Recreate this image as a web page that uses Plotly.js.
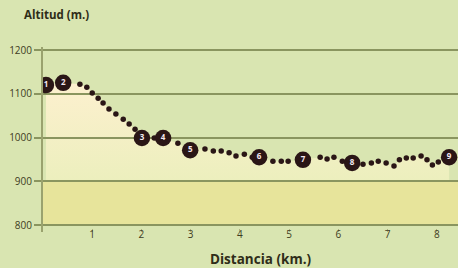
<!DOCTYPE html>
<html>
<head>
<meta charset="utf-8">
<script src="https://cdn.plot.ly/plotly-3.0.1.min.js"></script>
<style>
html,body{margin:0;padding:0;background:#d9e5b1;}
#chart{width:458px;height:268px;}
</style>
</head>
<body>
<div id="chart"></div>
<script>
// Waypoints (numbered markers)
const waypointLabels = ['1','2','3','4','5','6','7','8','9'];
const waypointKm  = [0.06, 0.41, 2.01, 2.44, 2.99, 4.39, 5.28, 6.28, 8.25];
const waypointAlt = [1120, 1125, 999, 999, 971, 955, 949, 942, 955];

// Small dots of the profile
const dotKm  = [0.75, 0.89, 1.00, 1.12, 1.22, 1.34, 1.48, 1.63, 1.75, 1.87, 2.26, 2.74,
                3.29, 3.46, 3.62, 3.78, 3.92, 4.09, 4.25, 4.67, 4.84, 4.98,
                5.63, 5.77, 5.91, 6.08, 6.50, 6.67, 6.81, 6.97, 7.13, 7.24, 7.38, 7.52, 7.68, 7.80, 7.91, 8.03];
const dotAlt = [1122, 1115, 1102, 1090, 1079, 1065, 1054, 1042, 1031, 1019, 999, 987,
                974, 969, 969, 965, 958, 962, 955, 946, 946, 946,
                955, 951, 955, 946, 939, 942, 946, 942, 935, 949, 953, 953, 958, 949, 937, 944];

const yTicks = [800, 900, 1000, 1100, 1200];
const yTickLabels = ['800', '900', '1000', '1100', '1200'];
const xTicks = [1, 2, 3, 4, 5, 6, 7, 8];
const bandLow = 800, bandTop = 900;

// Combined profile for the fill
const profile = waypointKm.map((k, i) => [k, waypointAlt[i]])
  .concat(dotKm.map((k, i) => [k, dotAlt[i]]))
  .sort((a, b) => a[0] - b[0]);
const profKm = profile.map(p => p[0]);
const profAlt = profile.map(p => p[1]);

const xRange = [0, 8.43];
const yRange = [784, 1207];
const olive = '#8a955f';
const txt = '#3e3c22';

const traces = [
  { x: [profKm[0], profKm[profKm.length - 1]], y: [bandTop, bandTop],
    xaxis: 'x', yaxis: 'y', mode: 'lines', line: {width: 0}, hoverinfo: 'skip', showlegend: false },
  { x: profKm, y: profAlt, xaxis: 'x', yaxis: 'y', mode: 'lines', line: {width: 0},
    fill: 'tonexty', fillcolor: '#f6f0c8',
    fillgradient: {type: 'vertical', start: bandTop, stop: 1130,
      colorscale: [[0, '#ecefbd'], [1, '#fdf0cf']]},
    hoverinfo: 'skip', showlegend: false },
  { x: dotKm, y: dotAlt, xaxis: 'x2', yaxis: 'y2', mode: 'markers',
    marker: {size: 5.5, color: '#2a1616'}, showlegend: false },
  { x: waypointKm, y: waypointAlt, xaxis: 'x2', yaxis: 'y2', mode: 'markers+text',
    text: waypointLabels, textposition: 'middle center',
    textfont: {family: 'Open Sans', size: 8, color: '#f4e8f0', weight: 700},
    marker: {size: 16.5, color: '#2a1616'}, showlegend: false }
];

const layout = {
  width: 458, height: 268,
  margin: {l: 43, r: 0, t: 47, b: 36},
  paper_bgcolor: '#d9e5b1',
  plot_bgcolor: 'rgba(0,0,0,0)',
  showlegend: false,
  font: {family: 'Open Sans', color: txt, size: 10},
  xaxis: {range: xRange, visible: false, fixedrange: true, domain: [0, 1]},
  yaxis: {range: yRange, visible: false, fixedrange: true, domain: [0, 1]},
  xaxis2: {range: xRange, anchor: 'y2', domain: [0, 1], showgrid: false, zeroline: false,
    tickvals: xTicks, ticktext: xTicks.map(String), ticks: 'inside', ticklen: 3,
    tickcolor: '#aeb07e', tickwidth: 1, showline: false, ticklabelstandoff: -5,
    tickfont: {size: 10, color: txt, family: 'Open Sans'}},
  yaxis2: {range: yRange, anchor: 'x2', domain: [0, 1], showgrid: true, gridcolor: olive, gridwidth: 2,
    zeroline: false, tickvals: yTicks, ticktext: yTickLabels, ticks: 'outside', ticklen: 7,
    tickcolor: olive, tickwidth: 2, showline: true, linecolor: '#9aa26e', linewidth: 2,
    tickfont: {size: 10, color: txt, family: 'Open Sans'}},
  shapes: [
    {type: 'rect', xref: 'x', yref: 'y', x0: xRange[0], x1: xRange[1], y0: bandLow, y1: bandTop,
     fillcolor: '#e7e49b', line: {width: 0}, layer: 'below'}
  ],
  annotations: [
    {text: '<b>Altitud (m.)</b>', xref: 'paper', yref: 'paper', x: -0.0506, y: 1.173,
     xanchor: 'left', yanchor: 'middle', showarrow: false,
     font: {size: 11.5, color: '#2f2d18', family: 'Open Sans'}},
    {text: '<b>Distancia (km.)</b>', xref: 'paper', yref: 'paper', x: 0.523, y: -0.146,
     xanchor: 'center', yanchor: 'middle', showarrow: false,
     font: {size: 13.5, color: '#2f2d18', family: 'Open Sans'}}
  ]
};

Plotly.newPlot('chart', traces, layout, {staticPlot: true, displayModeBar: false});
</script>
</body>
</html>
